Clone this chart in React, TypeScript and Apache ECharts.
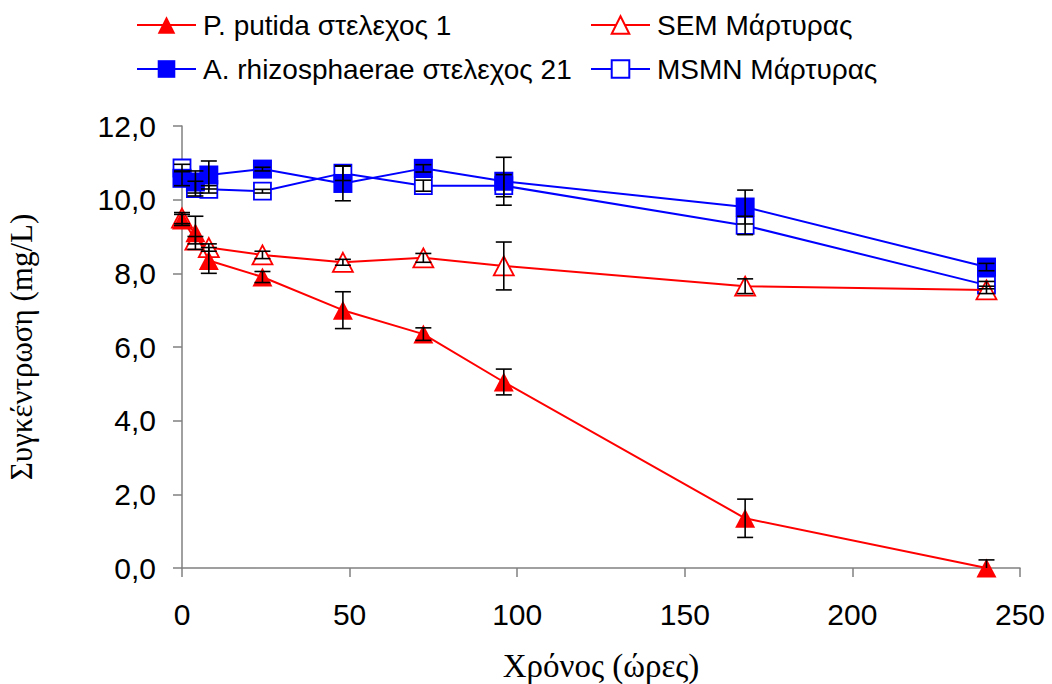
import React, { useEffect, useRef } from "react";
import * as echarts from "echarts";

const hours = [0, 4, 8, 24, 48, 72, 96, 168, 240];
const putida = [9.45, 9.1, 8.35, 7.9, 7.0, 6.35, 5.05, 1.35, 0.0];
const putidaErr = [0.15, 0.45, 0.35, 0.15, 0.5, 0.17, 0.35, 0.52, 0.22];
const sem = [9.5, 8.9, 8.7, 8.5, 8.3, 8.42, 8.2, 7.65, 7.55];
const semErr = [0.15, 0.1, 0.1, 0.1, 0.08, 0.12, 0.65, 0.2, 0.1];
const rhizo = [10.58, 10.48, 10.67, 10.83, 10.44, 10.85, 10.5, 9.8, 8.17];
const rhizoErr = [0.2, 0.3, 0.38, 0.05, 0.47, 0.1, 0.65, 0.46, 0.1];
const msmn = [10.86, 10.3, 10.28, 10.23, 10.72, 10.38, 10.38, 9.3, 7.68];
const msmnErr = [0.1, 0.2, 0.1, 0.05, 0.2, 0.15, 0.3, 0.25, 0.1];

const names = [
  "P. putida στελεχος 1",
  "SEM Μάρτυρας",
  "A. rhizosphaerae στελεχος 21",
  "MSMN Μάρτυρας",
];

const SANS = "'Liberation Sans', Arial, sans-serif";
const SERIF = "'Liberation Serif', 'Times New Roman', serif";

export default function App() {
  const ref = useRef<HTMLDivElement>(null);
  useEffect(() => {
    if (!ref.current) return;
    const chart = echarts.init(ref.current, undefined, { renderer: "svg" });
    const pair = (ys: number[]) => hours.map((h, i) => [h, ys[i]]);
    const errData: number[][] = [];
    [
      [putida, putidaErr],
      [sem, semErr],
      [rhizo, rhizoErr],
      [msmn, msmnErr],
    ].forEach(([ys, es]) => {
      hours.forEach((h, i) => errData.push([h, ys[i], es[i]]));
    });
    const legendBase = {
      itemWidth: 59,
      itemHeight: 22,
      textStyle: { fontFamily: SANS, fontSize: 28, color: "#000", padding: [0, 0, 0, 2] },
      itemGap: 6,
    };
    chart.setOption({
      animation: false,
      backgroundColor: "#fff",
      legend: [
        { ...legendBase, data: [names[0]], left: 131, top: 6 },
        { ...legendBase, data: [names[1]], left: 585, top: 6 },
        { ...legendBase, data: [names[2]], left: 131, top: 50 },
        { ...legendBase, data: [names[3]], left: 585, top: 50 },
      ],
      grid: { left: 182, right: 32, top: 126, bottom: 116, outerBoundsMode: "none", containLabel: false },
      xAxis: {
        type: "value",
        min: 0,
        max: 250,
        interval: 50,
        name: "Χρόνος (ώρες)",
        nameLocation: "middle",
        nameGap: 81,
        nameTextStyle: { fontFamily: SERIF, fontSize: 33, color: "#000" },
        axisLine: { onZero: false, lineStyle: { color: "#808080", width: 1.5 } },
        axisTick: { show: true, length: 9, lineStyle: { color: "#808080", width: 1.5 } },
        axisLabel: { fontFamily: SANS, fontSize: 30, color: "#000", margin: 31 },
        splitLine: { show: false },
      },
      yAxis: {
        type: "value",
        min: 0,
        max: 12,
        interval: 2,
        name: "Συγκέντρωση (mg/L)",
        nameLocation: "middle",
        nameGap: 145,
        nameTextStyle: { fontFamily: SERIF, fontSize: 31, color: "#000" },
        axisLine: { show: true, lineStyle: { color: "#808080", width: 1.5 } },
        axisTick: { show: true, length: 9, lineStyle: { color: "#808080", width: 1.5 } },
        axisLabel: {
          fontFamily: SANS,
          fontSize: 30,
          color: "#000",
          margin: 26,
          formatter: (v: number) => v.toFixed(1).replace(".", ","),
        },
        splitLine: { show: false },
      },
      series: [
        {
          name: names[0],
          type: "line",
          data: pair(putida),
          z: 5,
          symbol: "triangle",
          symbolSize: [20, 19],
          lineStyle: { color: "#ff0000", width: 2 },
          itemStyle: { color: "#ff0000" },
        },
        {
          name: names[1],
          type: "line",
          data: pair(sem),
          z: 3,
          symbol: "triangle",
          symbolSize: [20, 19],
          lineStyle: { color: "#ff0000", width: 2 },
          itemStyle: { color: "#ffffff", borderColor: "#ff0000", borderWidth: 1.8 },
        },
        {
          name: names[2],
          type: "line",
          data: pair(rhizo),
          z: 4,
          symbol: "rect",
          symbolSize: 19,
          lineStyle: { color: "#0000ff", width: 2 },
          itemStyle: { color: "#0000ff" },
        },
        {
          name: names[3],
          type: "line",
          data: pair(msmn),
          z: 2,
          symbol: "rect",
          symbolSize: 17,
          lineStyle: { color: "#0000ff", width: 2 },
          itemStyle: { color: "#ffffff", borderColor: "#0000ff", borderWidth: 1.8 },
        },
        {
          name: "errors",
          type: "custom",
          z: 10,
          data: errData,
          encode: { x: 0, y: 1 },
          renderItem: (params: any, api: any) => {
            const x = api.value(0);
            const y = api.value(1);
            const e = api.value(2);
            const lo = Math.max(0, y - e);
            const top = api.coord([x, y + e]);
            const bot = api.coord([x, lo]);
            const hw = 8;
            const st = { stroke: "#000", lineWidth: 1.6 };
            const children: any[] = [
              { type: "line", shape: { x1: top[0], y1: top[1], x2: bot[0], y2: bot[1] }, style: st },
              { type: "line", shape: { x1: top[0] - hw, y1: top[1], x2: top[0] + hw, y2: top[1] }, style: st },
            ];
            if (y - e >= 0) {
              children.push({
                type: "line",
                shape: { x1: bot[0] - hw, y1: bot[1], x2: bot[0] + hw, y2: bot[1] },
                style: st,
              });
            }
            return { type: "group", children };
          },
        },
      ],
    });
    return () => chart.dispose();
  }, []);
  return (
    <div
      ref={ref}
      style={{ position: "fixed", left: 0, top: 0, width: 1052, height: 684 }}
    />
  );
}
